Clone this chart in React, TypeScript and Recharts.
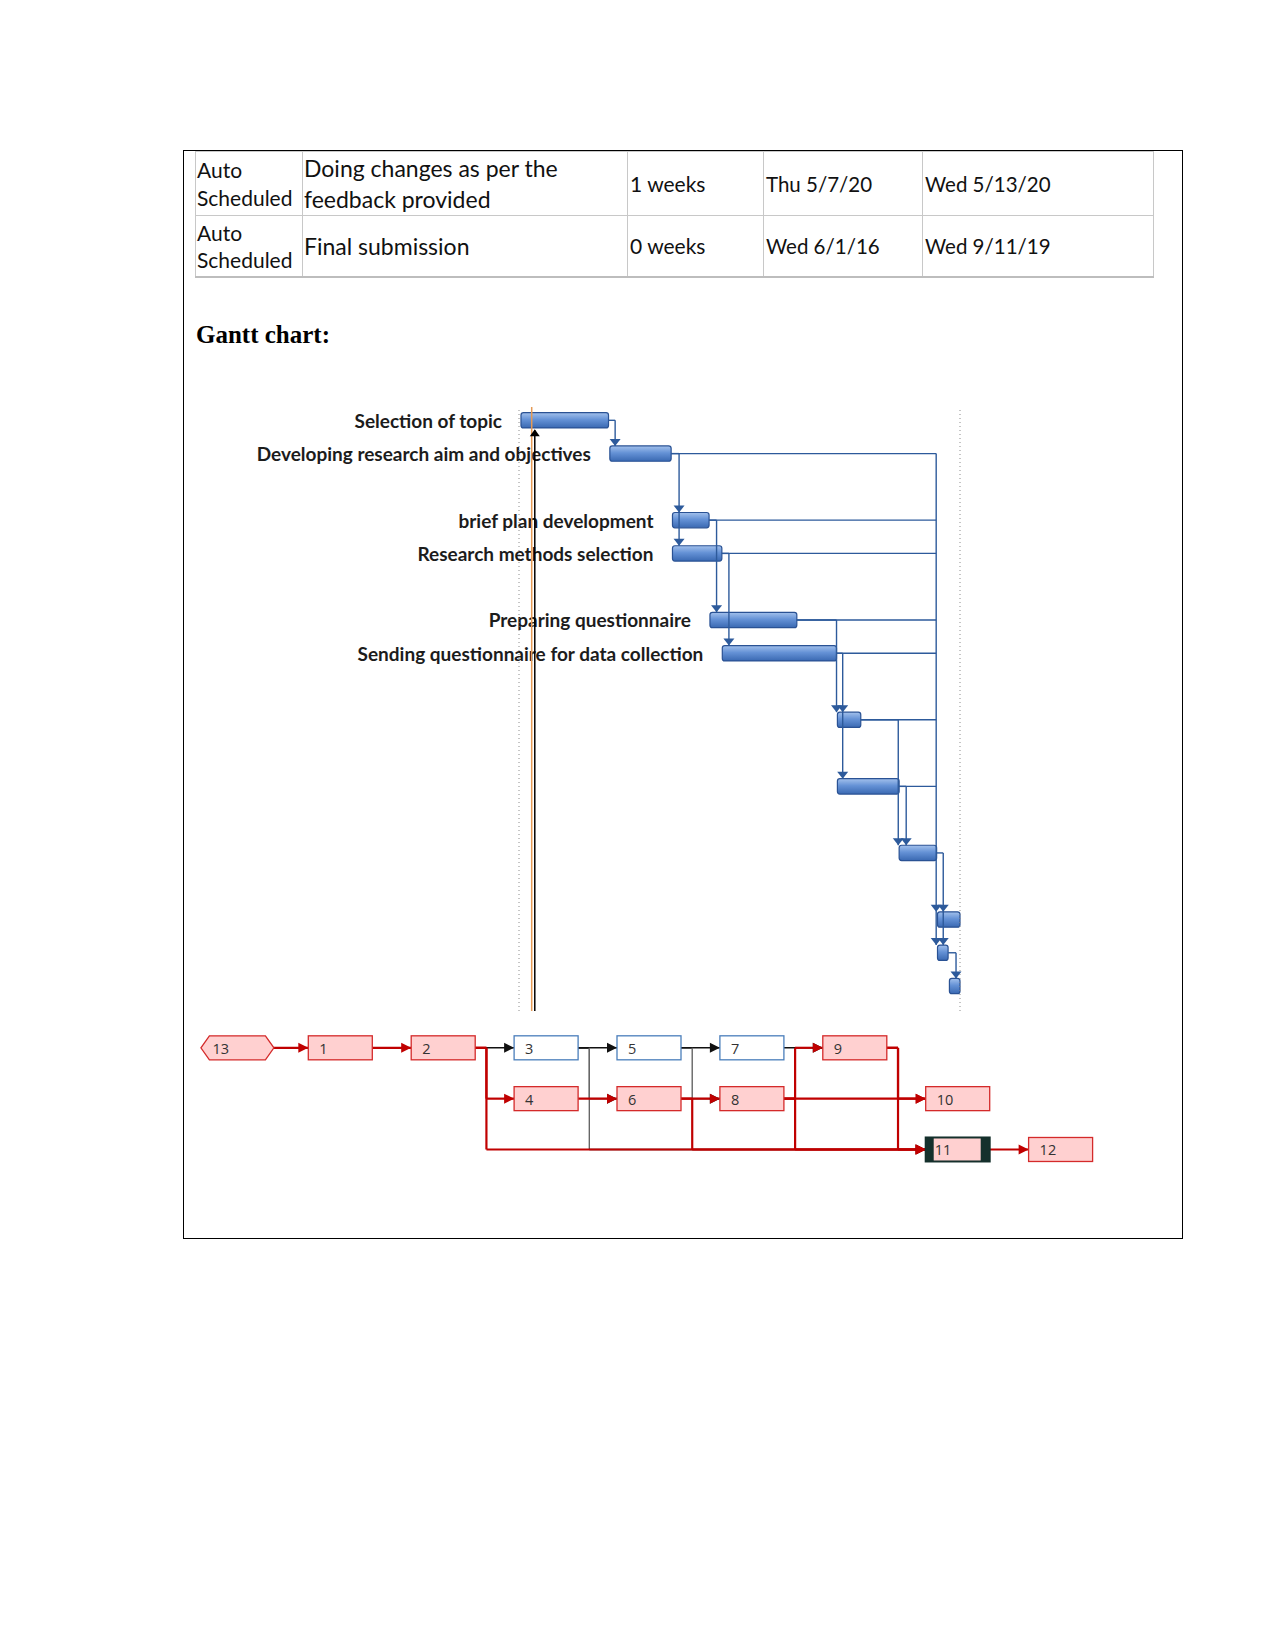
import React from "react";
import {
  ScatterChart,
  Scatter,
  XAxis,
  YAxis,
  ReferenceArea,
  ReferenceLine,
} from "recharts";

// ---- table rows above the chart
const modeLines = [["Auto", "Scheduled"], ["Auto", "Scheduled"]];
const taskLines = [["Doing changes as per the", "feedback provided"], ["Final submission"]];
const durations = ["1 weeks", "0 weeks"];
const starts = ["Thu 5/7/20", "Wed 6/1/16"];
const finishes = ["Wed 5/13/20", "Wed 9/11/19"];

// ---- gantt (x = % of project span, row = line in the view)
const ganttLabels = [
  "Selection of topic",
  "Developing research aim and objectives",
  "brief plan development",
  "Research methods selection",
  "Preparing questionnaire",
  "Sending questionnaire for data collection",
  "", "", "", "", "", "",
];
const ganttRow = [0, 1, 3, 4, 6, 7, 9, 11, 13, 15, 16, 17];
const ganttStart = [0.45, 20.6, 34.8, 34.8, 43.3, 46.1, 72.2, 72.2, 86.2, 94.9, 94.9, 97.6];
const ganttEnd = [20.3, 34.5, 43.1, 46.0, 63.0, 72.0, 77.5, 86.2, 94.7, 100, 97.3, 100];

// dependency drops: source task, x of the drop, rows fed
const linkFrom = [0, 1, 2, 3, 4, 5, 6, 7, 8, 10];
const linkX = [21.8, 36.3, 44.8, 47.6, 72.0, 73.4, 86.0, 87.8, 96.2, 99.1];
const linkTo = [[1], [3, 4], [6], [7], [9], [9, 11], [13], [13], [15, 16], [17]];
// tasks that also feed the long line on the right
const mergeFrom = [1, 2, 3, 4, 5, 6, 7];
const mergeX = 94.6;
const mergeTo = [15, 16];
const statusOrange = 2.88;
const statusBlack = 3.58;

// ---- network diagram
const nodeIds = ["13", "1", "2", "3", "4", "5", "6", "7", "8", "9", "10", "11", "12"];
const nodeCol = [0, 1, 2, 3, 3, 4, 4, 5, 5, 6, 7, 7, 8];
const nodeRow = [0, 0, 0, 0, 1, 0, 1, 0, 1, 0, 1, 2, 2];
const nodeCritical = [1, 1, 1, 0, 1, 0, 1, 0, 1, 1, 1, 1, 1];
const edgeFrom = ["13", "1", "2", "2", "2", "3", "3", "3", "4", "5", "5", "6", "6", "7", "8", "8", "8", "9", "9", "11"];
const edgeTo = ["1", "2", "3", "4", "11", "5", "6", "11", "6", "7", "8", "8", "11", "9", "9", "10", "11", "10", "11", "12"];

const HALF = 0.23; // half bar height in rows
const BLUE = "#2D5A9B";
const RED = "#C00000";

const GanttBar = (p: any, label: string) => (
  <g>
    <rect x={p.x} y={p.y} width={p.width} height={p.height} rx={2.5} fill="url(#ganttFill)" stroke="#2A5294" strokeWidth={1.2} />
    {label ? (
      <text x={p.x - 19} y={p.y + p.height / 2} textAnchor="end" dominantBaseline="central"
        fontFamily="Lato" fontWeight={700} fontSize={19} fill="#1c1c1c">
        {label}
      </text>
    ) : null}
  </g>
);

const GanttArrow = (p: any) => {
  const { cx, cy, payload } = p;
  if (payload.dir === "up") {
    return <polygon points={`${cx},${cy} ${cx - 5},${cy + 7} ${cx + 5},${cy + 7}`} fill="#000" />;
  }
  return <polygon points={`${cx},${cy} ${cx - 5.5},${cy - 7} ${cx + 5.5},${cy - 7}`} fill={BLUE} />;
};

function GanttChart() {
  const segs: any[] = [];
  linkFrom.forEach((t, i) => {
    const r = ganttRow[t];
    const x = linkX[i];
    const last = Math.max(...linkTo[i]);
    segs.push([{ x: ganttEnd[t], y: r }, { x, y: r }]);
    segs.push([{ x, y: r }, { x, y: last - HALF }]);
  });
  mergeFrom.forEach((t) => {
    segs.push([{ x: ganttEnd[t], y: ganttRow[t] }, { x: mergeX, y: ganttRow[t] }]);
  });
  segs.push([{ x: mergeX, y: ganttRow[mergeFrom[0]] }, { x: mergeX, y: Math.max(...mergeTo) - HALF }]);

  const arrows: any[] = [];
  linkTo.forEach((rows, i) => rows.forEach((r) => arrows.push({ x: linkX[i], y: r - HALF, dir: "down" })));
  mergeTo.forEach((r) => arrows.push({ x: mergeX, y: r - HALF, dir: "down" }));
  arrows.push({ x: statusBlack, y: 0.27, dir: "up" });

  return (
    <ScatterChart width={800} height={625} margin={{ top: 12, right: 40, bottom: 9, left: 319 }}>
      <defs>
        <linearGradient id="ganttFill" x1="0" y1="0" x2="0" y2="1">
          <stop offset="0" stopColor="#A3C1EC" />
          <stop offset="0.45" stopColor="#6592D6" />
          <stop offset="1" stopColor="#3A69B2" />
        </linearGradient>
      </defs>
      <XAxis type="number" dataKey="x" domain={[0, 100]} hide />
      <YAxis type="number" dataKey="y" domain={[-0.4, 17.75]} reversed hide />
      <ReferenceLine x={0} stroke="#8c8c8c" strokeDasharray="1 3" />
      <ReferenceLine x={100} stroke="#8c8c8c" strokeDasharray="1 3" />
      {ganttRow.map((r, i) => (
        <ReferenceArea
          key={i}
          x1={ganttStart[i]}
          x2={ganttEnd[i]}
          y1={r - HALF}
          y2={r + HALF}
          ifOverflow="visible"
          shape={(p: any) => GanttBar(p, ganttLabels[i])}
        />
      ))}
      {segs.map((s, i) => (
        <ReferenceLine key={"s" + i} segment={s} stroke={BLUE} strokeWidth={1.4} ifOverflow="visible" />
      ))}
      <ReferenceLine segment={[{ x: statusOrange, y: -0.4 }, { x: statusOrange, y: 17.75 }]} stroke="#E59A55" strokeWidth={1.5} ifOverflow="visible" />
      <ReferenceLine segment={[{ x: statusBlack, y: 0.3 }, { x: statusBlack, y: 17.75 }]} stroke="#000" strokeWidth={1.5} ifOverflow="visible" />
      <Scatter data={arrows} shape={GanttArrow} isAnimationActive={false} />
    </ScatterChart>
  );
}

const NODE_W = 64;
const NODE_H = 24;

const NetNode = (p: any) => {
  const { cx, cy, payload } = p;
  const l = cx - NODE_W / 2;
  const t = cy - NODE_H / 2;
  const txt = (x: number) => (
    <text x={x} y={cy + 0.5} dominantBaseline="central" fontFamily="Open Sans" fontSize={14.5} fill="#333">
      {payload.id}
    </text>
  );
  if (payload.id === "13") {
    return (
      <g>
        <polygon
          points={`${cx - 36.5},${cy} ${cx - 28},${cy - 12} ${cx + 28},${cy - 12} ${cx + 36.5},${cy} ${cx + 28},${cy + 12} ${cx - 28},${cy + 12}`}
          fill="#FFD0D0" stroke="#D42A2A" strokeWidth={1.3} />
        {txt(cx - 25)}
      </g>
    );
  }
  if (payload.id === "11") {
    return (
      <g>
        <rect x={l} y={t} width={NODE_W} height={NODE_H} fill="#FFD0D0" stroke="#15302C" strokeWidth={2} />
        <rect x={l} y={t} width={8} height={NODE_H} fill="#15302C" />
        <rect x={l + NODE_W - 9} y={t} width={9} height={NODE_H} fill="#15302C" />
        {txt(l + 9)}
      </g>
    );
  }
  return (
    <g>
      <rect x={l} y={t} width={NODE_W} height={NODE_H}
        fill={payload.critical ? "#FFD0D0" : "#fff"}
        stroke={payload.critical ? "#D42A2A" : "#4A7EBB"} strokeWidth={1.3} />
      {txt(l + 11)}
    </g>
  );
};

const NetArrow = (p: any) => {
  const { cx, cy, payload } = p;
  return <polygon points={`${cx},${cy} ${cx - 10},${cy - 5} ${cx - 10},${cy + 5}`} fill={payload.color} />;
};

function NetworkChart() {
  const nodes = nodeIds.map((id, i) => ({ id, x: nodeCol[i], y: nodeRow[i], critical: nodeCritical[i] === 1 }));
  const byId: Record<string, any> = {};
  nodes.forEach((n) => (byId[n.id] = n));
  const half = 0.311;
  const segs: any[] = [];
  const arrows: any[] = [];
  edgeFrom.forEach((f, i) => {
    const s = byId[f];
    const t = byId[edgeTo[i]];
    const crit = s.critical && t.critical;
    const color = crit ? RED : "#111";
    const x0 = s.x + (s.id === "13" ? 0.355 : half);
    const bus = s.x + 0.42;
    const xe = t.x - half;
    const parts =
      s.y === t.y
        ? [[{ x: x0, y: s.y }, { x: xe, y: t.y }]]
        : [
            [{ x: x0, y: s.y }, { x: bus, y: s.y }],
            [{ x: bus, y: s.y }, { x: bus, y: t.y }],
            [{ x: bus, y: t.y }, { x: xe, y: t.y }],
          ];
    parts.forEach((seg) => segs.push({ seg, color, crit, vert: seg[0].x === seg[1].x }));
    arrows.push({ x: xe, y: t.y, color, crit });
  });
  segs.sort((a, b) => Number(a.crit) - Number(b.crit));
  arrows.sort((a, b) => Number(a.crit) - Number(b.crit));

  return (
    <ScatterChart width={1040} height={170} margin={{ top: 7.4, right: 6.5, bottom: 10.1, left: 4.5 }}>
      <XAxis type="number" dataKey="x" domain={[-1, 9]} hide />
      <YAxis type="number" dataKey="y" domain={[-0.5, 2.5]} reversed hide />
      {segs.map((s, i) => (
        <ReferenceLine
          key={i}
          segment={s.seg}
          stroke={s.crit ? RED : s.vert ? "#666" : "#111"}
          strokeWidth={s.crit ? 2.2 : 1.4}
          ifOverflow="visible"
        />
      ))}
      <Scatter data={arrows} shape={NetArrow} isAnimationActive={false} />
      <Scatter data={nodes} shape={NetNode} isAnimationActive={false} />
    </ScatterChart>
  );
}

function TaskTable() {
  const widths = [107, 325, 136, 159, 231];
  const heights = [64, 61];
  const cell = (h: number): React.CSSProperties => ({
    height: h,
    border: "1px solid #c8c8c8",
    padding: "0 2px",
    verticalAlign: "middle",
    boxSizing: "border-box",
  });
  const small: React.CSSProperties = { fontSize: 21, lineHeight: "28px" };
  const date: React.CSSProperties = { fontSize: 20.5, lineHeight: "28px" };
  const big: React.CSSProperties = { fontSize: 23, lineHeight: "30.5px" };
  return (
    <table
      style={{
        position: "absolute",
        left: 195,
        top: 151,
        width: 958,
        borderCollapse: "collapse",
        tableLayout: "fixed",
        fontFamily: "Lato",
        color: "#111",
        borderBottom: "2px solid #bdbdbd",
      }}
    >
      <colgroup>
        {widths.map((w, i) => (
          <col key={i} style={{ width: w }} />
        ))}
      </colgroup>
      <tbody>
        {modeLines.map((m, r) => (
          <tr key={r}>
            <td style={{ ...cell(heights[r]), ...small, paddingLeft: 1 }}>
              {m.map((l, k) => <div key={k} style={{ lineHeight: r === 0 ? "28px" : "27px" }}>{l}</div>)}
            </td>
            <td style={{ ...cell(heights[r]), ...big, paddingLeft: 1 }}>
              {taskLines[r].map((l, k) => <div key={k}>{l}</div>)}
            </td>
            <td style={{ ...cell(heights[r]), ...small }}>{durations[r]}</td>
            <td style={{ ...cell(heights[r]), ...date }}>{starts[r]}</td>
            <td style={{ ...cell(heights[r]), ...date }}>{finishes[r]}</td>
          </tr>
        ))}
      </tbody>
    </table>
  );
}

export default function App() {
  return (
    <div style={{ position: "absolute", left: 0, top: 0, width: 1275, height: 1651, background: "#fff" }}>
      <div
        style={{
          position: "absolute",
          left: 183,
          top: 150,
          width: 1000,
          height: 1089,
          border: "1px solid #000",
          boxSizing: "border-box",
        }}
      />
      <TaskTable />
      <div
        style={{
          position: "absolute",
          left: 196,
          top: 321,
          fontFamily: '"Liberation Serif", serif',
          fontWeight: 700,
          fontSize: 25,
          lineHeight: "28px",
        }}
      >
        Gantt chart:
      </div>
      <div style={{ position: "absolute", left: 200, top: 395 }}>
        <GanttChart />
      </div>
      <div style={{ position: "absolute", left: 130, top: 1015 }}>
        <NetworkChart />
      </div>
    </div>
  );
}
